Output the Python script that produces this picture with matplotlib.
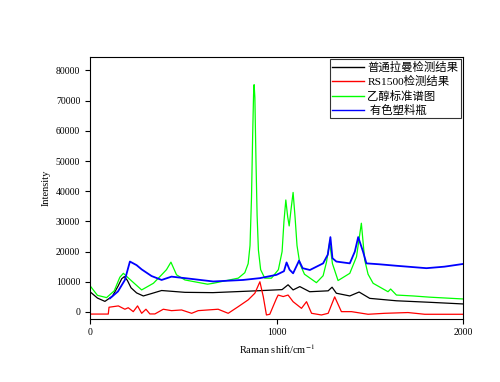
import matplotlib
matplotlib.use('Agg')
import matplotlib.pyplot as plt

plt.rcParams['font.family'] = ['Liberation Serif', 'Noto Sans CJK SC']
plt.rcParams['mathtext.fontset'] = 'stix'

# Raman shift (cm-1) / intensity
black_x = [0, 40, 80, 120, 150, 170, 184, 200, 220, 250, 286, 330, 384, 509, 659, 893,
           1030, 1062, 1089, 1125, 1178, 1277, 1298, 1321, 1393, 1443, 1500, 1643, 1821, 2000]
black_y = [6700, 4600, 3500, 5200, 8500, 11000, 11700, 10500, 8000, 6300, 5300, 6100,
           7100, 6500, 6400, 7000, 7400, 9000, 7300, 8400, 6700, 7000, 8200, 6200, 5300,
           6600, 4500, 3700, 3200, 2650]

red_x = [0, 98, 102, 152, 187, 205, 232, 255, 277, 300, 321, 348, 393, 437, 491, 545,
         580, 687, 741, 795, 848, 884, 911, 929, 946, 964, 1000, 1009, 1036, 1062, 1089,
         1134, 1161, 1188, 1241, 1277, 1312, 1348, 1402, 1491, 1580, 1705, 1795, 2000]
red_y = [-700, -700, 1560, 2000, 900, 1400, 100, 2000, -450, 900, -660, -660, 900, 430,
         660, -450, 430, 900, -450, 1760, 4000, 6200, 10000, 5100, -1000, -770, 4500,
         5600, 5100, 5600, 3400, 1200, 3400, -450, -1000, -450, 5000, 100, 100, -770,
         -450, -200, -770, -770]

green_x = [0, 40, 89, 130, 160, 179, 210, 277, 340, 384, 410, 434, 464, 509, 630, 661,
           795, 830, 848, 858, 866, 872, 877, 880, 884, 890, 896, 903, 915, 937, 973,
           1010, 1030, 1040, 1050, 1060, 1068, 1078, 1089, 1100, 1110, 1125, 1150, 1214,
           1250, 1268, 1285, 1300, 1330, 1393, 1429, 1455, 1473, 1491, 1518, 1598, 1612,
           1643, 1732, 1821, 2000]
green_y = [8700, 5500, 4750, 7000, 11500, 12800, 11000, 7300, 9500, 12300, 14000, 16500,
           12300, 10600, 9200, 9500, 11200, 13000, 16000, 22000, 38000, 58000, 72000,
           75300, 71000, 50000, 32000, 20500, 14000, 11200, 11200, 14000, 20000, 30000,
           37100, 31500, 28500, 34000, 39600, 31000, 22000, 16000, 12500, 9700, 12000,
           16500, 23000, 16000, 10400, 12800, 18300, 29400, 17200, 12500, 9500, 6700,
           7600, 5600, 5300, 4900, 4300]

blue_x = [107, 150, 187, 214, 250, 277, 330, 384, 437, 509, 661, 821, 911, 1000, 1040,
          1054, 1070, 1089, 1121, 1140, 1179, 1250, 1275, 1289, 1300, 1321, 1393, 1420,
          1438, 1464, 1482, 1550, 1643, 1804, 1900, 2000]
blue_y = [4500, 6800, 10600, 16700, 15500, 14100, 11900, 10600, 11700, 11200, 10100,
          10600, 11200, 12300, 13500, 16400, 14000, 12800, 17000, 14500, 13900, 16100,
          19000, 24800, 17800, 16700, 16100, 20000, 24800, 20000, 16100, 15800, 15300,
          14500, 15000, 15900]

labels = ['普通拉曼检测结果', 'RS1500检测结果', '乙醇标准谱图', ' 有色塑料瓶']

fig = plt.figure(figsize=(5, 3.82), dpi=100)
ax = fig.add_axes([0.18, 0.166, 0.746, 0.685])

ax.plot(black_x, black_y, color='black', lw=0.9, label=labels[0])
ax.plot(red_x, red_y, color='#ff0000', lw=0.9, label=labels[1])
ax.plot(green_x, green_y, color='#00ff00', lw=0.9, label=labels[2])
ax.plot(blue_x, blue_y, color='#0000ff', lw=1.3, label=labels[3])

ax.set_xlim(0, 2000)
ax.set_ylim(-2200, 84500)
ax.set_xticks([0, 1000, 2000])
ax.set_yticks(range(0, 80001, 10000))
ax.tick_params(direction='out', length=3.5, width=0.8, labelsize=7, top=False, right=False)
for s in ax.spines.values():
    s.set_linewidth(0.8)

ax.set_xlabel('Raman shift/cm$^{-1}$', fontsize=7.5)
ax.set_ylabel('Intensity', fontsize=7.5)

leg = ax.legend(loc='upper right', fontsize=8.2, frameon=True, fancybox=False,
                edgecolor='black', borderaxespad=0.2, handlelength=2.8,
                labelspacing=0.3, borderpad=0.2, handletextpad=0.3)
leg.get_frame().set_linewidth(0.8)
for line in leg.get_lines():
    line.set_linewidth(1.0)

fig.savefig('out.png', dpi=100)
